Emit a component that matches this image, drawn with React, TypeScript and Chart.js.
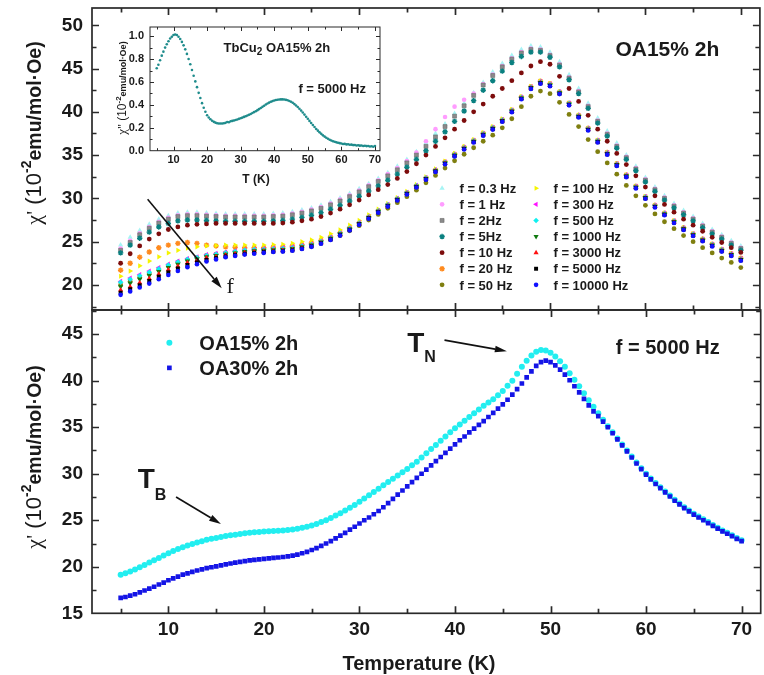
import React, { useEffect, useRef } from 'react';
import { Chart, registerables } from 'chart.js';
import { drawPoint } from 'chart.js/helpers';

Chart.register(...registerables);

const W = 764;
const H = 675;
const SANS = "'Liberation Sans', Arial, Helvetica, sans-serif";
const SERIF = "'Liberation Serif', 'Times New Roman', serif";
const TXT = '#1a1a1a';
const FRAME = '#2a2a2a';

// ---------- axes / ticks ----------
const X_TICKS = [10, 20, 30, 40, 50, 60, 70];
const X_MINOR = [5, 15, 25, 35, 45, 55, 65];
const TOP_Y_TICKS = [20, 25, 30, 35, 40, 45, 50];
const TOP_Y_MINOR = [17.5, 22.5, 27.5, 32.5, 37.5, 42.5, 47.5];
const BOT_Y_TICKS = [15, 20, 25, 30, 35, 40, 45];
const BOT_Y_MINOR = [17.5, 22.5, 27.5, 32.5, 37.5, 42.5, 47.5];
const INSET_X_TICKS = [10, 20, 30, 40, 50, 60, 70];
const INSET_X_MINOR = [5, 15, 25, 35, 45, 55, 65];
const INSET_Y_TICKS = [0, 0.2, 0.4, 0.6, 0.8, 1.0];
const INSET_Y_MINOR = [0.1, 0.3, 0.5, 0.7, 0.9];

// ---------- temperatures ----------
const T_TOP = [
  5, 6, 7, 8, 9, 10, 11, 12, 13, 14,
  15, 16, 17, 18, 19, 20, 21, 22, 23, 24,
  25, 26, 27, 28, 29, 30, 31, 32, 33, 34,
  35, 36, 37, 38, 39, 40, 41, 42, 43, 44,
  45, 46, 47, 48, 49, 50, 51, 52, 53, 54,
  55, 56, 57, 58, 59, 60, 61, 62, 63, 64,
  65, 66, 67, 68, 69, 70,
];
const T_FINE = [
  5, 5.5, 6, 6.5, 7, 7.5, 8, 8.5, 9, 9.5,
  10, 10.5, 11, 11.5, 12, 12.5, 13, 13.5, 14, 14.5,
  15, 15.5, 16, 16.5, 17, 17.5, 18, 18.5, 19, 19.5,
  20, 20.5, 21, 21.5, 22, 22.5, 23, 23.5, 24, 24.5,
  25, 25.5, 26, 26.5, 27, 27.5, 28, 28.5, 29, 29.5,
  30, 30.5, 31, 31.5, 32, 32.5, 33, 33.5, 34, 34.5,
  35, 35.5, 36, 36.5, 37, 37.5, 38, 38.5, 39, 39.5,
  40, 40.5, 41, 41.5, 42, 42.5, 43, 43.5, 44, 44.5,
  45, 45.5, 46, 46.5, 47, 47.5, 48, 48.5, 49, 49.5,
  50, 50.5, 51, 51.5, 52, 52.5, 53, 53.5, 54, 54.5,
  55, 55.5, 56, 56.5, 57, 57.5, 58, 58.5, 59, 59.5,
  60, 60.5, 61, 61.5, 62, 62.5, 63, 63.5, 64, 64.5,
  65, 65.5, 66, 66.5, 67, 67.5, 68, 68.5, 69, 69.5,
  70,
];

// ---------- top panel: chi' (OA15% 2h) at each frequency ----------
const F_0_3 = [
  24.6, 25.5, 26.3, 27.0, 27.6, 28.0, 28.3, 28.4, 28.4, 28.3,
  28.25, 28.2, 28.2, 28.2, 28.2, 28.2, 28.25, 28.3, 28.45, 28.65,
  28.9, 29.2, 29.6, 30.05, 30.55, 31.1, 31.7, 32.3, 32.95, 33.7,
  34.5, 35.4, 36.4, 37.5, 38.6, 39.8, 41.0, 42.2, 43.4, 44.6,
  45.6, 46.5, 47.2, 47.6, 47.5, 46.9, 45.8, 44.3, 42.7, 41.0,
  39.3, 37.8, 36.4, 35.0, 33.7, 32.4, 31.3, 30.3, 29.4, 28.6,
  27.9, 27.1, 26.4, 25.8, 25.1, 24.5,
];
const F_1 = [
  24.2, 25.1, 25.95, 26.7, 27.3, 27.75, 28.05, 28.15, 28.15, 28.1,
  28.05, 28.0, 28.0, 28.0, 28.0, 28.0, 28.05, 28.1, 28.25, 28.45,
  28.7, 29.0, 29.4, 29.85, 30.35, 30.9, 31.5, 32.1, 32.8, 33.5,
  34.3, 35.3, 36.6, 38.0, 39.4, 40.6, 41.4, 42.1, 43.2, 44.3,
  45.3, 46.2, 46.9, 47.3, 47.2, 46.6, 45.5, 44.0, 42.4, 40.7,
  39.0, 37.5, 36.1, 34.8, 33.5, 32.2, 31.1, 30.1, 29.2, 28.4,
  27.7, 26.9, 26.2, 25.6, 24.9, 24.3,
];
const F_2 = [
  24.0, 24.9, 25.8, 26.55, 27.15, 27.6, 27.9, 28.0, 28.0, 27.95,
  27.9, 27.85, 27.85, 27.85, 27.85, 27.85, 27.9, 27.95, 28.1, 28.3,
  28.55, 28.85, 29.25, 29.7, 30.2, 30.75, 31.35, 31.95, 32.6, 33.3,
  34.1, 35.0, 36.0, 37.1, 38.3, 39.5, 40.7, 41.9, 43.1, 44.2,
  45.2, 46.1, 46.8, 47.2, 47.1, 46.5, 45.4, 43.9, 42.3, 40.6,
  38.9, 37.4, 36.0, 34.7, 33.4, 32.1, 31.0, 30.0, 29.1, 28.3,
  27.6, 26.8, 26.1, 25.5, 24.8, 24.2,
];
const F_5 = [
  23.7, 24.6, 25.4, 26.1, 26.7, 27.1, 27.4, 27.5, 27.5, 27.45,
  27.4, 27.35, 27.35, 27.35, 27.35, 27.35, 27.4, 27.45, 27.6, 27.8,
  28.05, 28.35, 28.75, 29.2, 29.7, 30.25, 30.85, 31.45, 32.1, 32.8,
  33.6, 34.5, 35.5, 36.6, 37.7, 38.9, 40.1, 41.3, 42.5, 43.6,
  44.7, 45.7, 46.4, 46.9, 46.9, 46.3, 45.2, 43.7, 42.1, 40.4,
  38.7, 37.2, 35.8, 34.5, 33.2, 31.9, 30.8, 29.8, 28.9, 28.1,
  27.4, 26.6, 25.9, 25.3, 24.6, 24.0,
];
const F_10 = [
  22.5, 23.6, 24.5, 25.3, 25.9, 26.4, 26.7, 26.9, 27.0, 27.05,
  27.1, 27.1, 27.1, 27.1, 27.1, 27.1, 27.1, 27.15, 27.25, 27.4,
  27.6, 27.9, 28.3, 28.75, 29.25, 29.8, 30.4, 31.0, 31.6, 32.3,
  33.1, 34.0, 35.0, 36.0, 37.0, 38.0, 39.0, 40.0, 40.9, 41.8,
  42.7, 43.6, 44.5, 45.3, 45.8, 45.5, 44.1, 42.7, 41.2, 39.6,
  38.0, 36.6, 35.2, 33.9, 32.6, 31.3, 30.3, 29.3, 28.4, 27.6,
  26.9, 26.2, 25.5, 24.9, 24.3, 23.75,
];
const F_20 = [
  21.7, 22.5, 23.2, 23.8, 24.3, 24.6, 24.8, 24.9, 24.8, 24.6,
  24.5, 24.4, 24.35, 24.3, 24.3, 24.3, 24.35, 24.4, 24.5, 24.65,
  24.85, 25.15, 25.55, 26.0, 26.55, 27.15, 27.85, 28.55, 29.25, 29.95,
  30.65, 31.45, 32.35, 33.25, 34.2, 35.1, 35.9, 36.7, 37.5, 38.2,
  39.1, 40.2, 41.7, 42.9, 43.55, 43.25, 42.3, 41.0, 39.6, 38.1,
  36.7, 35.3, 34.0, 32.7, 31.4, 30.2, 29.2, 28.3, 27.4, 26.6,
  25.9, 25.3, 24.7, 24.1, 23.6, 23.1,
];
const F_50 = [
  20.0, 20.4, 20.85, 21.3, 21.75, 22.2, 22.6, 22.9, 23.15, 23.4,
  23.55, 23.7, 23.8, 23.9, 24.0, 24.05, 24.1, 24.15, 24.2, 24.35,
  24.55, 24.85, 25.25, 25.7, 26.25, 26.85, 27.5, 28.15, 28.85, 29.5,
  30.2, 30.95, 31.8, 32.65, 33.5, 34.35, 35.1, 35.85, 36.6, 37.3,
  38.15, 39.2, 40.6, 41.8, 42.4, 42.1, 41.1, 39.7, 38.3, 36.8,
  35.4, 34.1, 32.8, 31.5, 30.3, 29.2, 28.2, 27.3, 26.5, 25.7,
  25.0, 24.3, 23.7, 23.1, 22.6, 22.0,
];
const F_100 = [
  21.0, 21.6, 22.2, 22.75, 23.25, 23.7, 24.0, 24.25, 24.4, 24.5,
  24.55, 24.6, 24.6, 24.6, 24.6, 24.6, 24.65, 24.7, 24.8, 25.0,
  25.2, 25.5, 25.9, 26.35, 26.9, 27.45, 28.1, 28.75, 29.4, 30.1,
  30.8, 31.6, 32.5, 33.4, 34.3, 35.2, 36.0, 36.8, 37.6, 38.3,
  39.2, 40.3, 41.75, 42.95, 43.55, 43.25, 42.3, 41.0, 39.6, 38.1,
  36.7, 35.3, 34.0, 32.7, 31.4, 30.2, 29.2, 28.3, 27.4, 26.6,
  25.9, 25.3, 24.7, 24.1, 23.6, 23.05,
];
const F_300 = [
  20.4, 20.8, 21.2, 21.6, 22.0, 22.4, 22.75, 23.05, 23.25, 23.5,
  23.65, 23.8, 23.95, 24.05, 24.15, 24.2, 24.25, 24.3, 24.4, 24.55,
  24.7, 25.05, 25.5, 26.0, 26.6, 27.2, 27.9, 28.6, 29.3, 30.0,
  30.7, 31.5, 32.4, 33.3, 34.2, 35.1, 35.9, 36.7, 37.5, 38.2,
  39.1, 40.2, 41.7, 42.9, 43.5, 43.2, 42.3, 41.0, 39.6, 38.1,
  36.7, 35.3, 34.0, 32.7, 31.4, 30.2, 29.2, 28.3, 27.4, 26.6,
  25.9, 25.3, 24.7, 24.1, 23.6, 23.05,
];
const F_500 = [
  20.3, 20.65, 21.05, 21.45, 21.85, 22.3, 22.65, 22.95, 23.15, 23.4,
  23.55, 23.7, 23.85, 24.0, 24.1, 24.1, 24.15, 24.2, 24.3, 24.5,
  24.65, 25.0, 25.45, 25.95, 26.55, 27.15, 27.85, 28.55, 29.25, 29.95,
  30.65, 31.45, 32.35, 33.25, 34.15, 35.05, 35.85, 36.65, 37.45, 38.15,
  39.05, 40.15, 41.65, 42.85, 43.45, 43.15, 42.25, 40.95, 39.55, 38.05,
  36.65, 35.25, 33.95, 32.65, 31.35, 30.15, 29.15, 28.25, 27.35, 26.55,
  25.85, 25.25, 24.65, 24.05, 23.55, 23.0,
];
const F_1000 = [
  19.8, 20.2, 20.65, 21.1, 21.55, 22.0, 22.4, 22.75, 23.0, 23.25,
  23.4, 23.55, 23.7, 23.85, 23.95, 24.0, 24.05, 24.1, 24.2, 24.4,
  24.6, 24.95, 25.4, 25.9, 26.5, 27.1, 27.8, 28.5, 29.2, 29.9,
  30.6, 31.4, 32.3, 33.2, 34.1, 35.0, 35.8, 36.6, 37.4, 38.1,
  39.0, 40.1, 41.6, 42.8, 43.4, 43.1, 42.2, 40.9, 39.5, 38.0,
  36.6, 35.2, 33.9, 32.6, 31.3, 30.1, 29.1, 28.2, 27.3, 26.5,
  25.8, 25.2, 24.6, 24.0, 23.5, 22.95,
];
const F_3000 = [
  19.4, 19.8, 20.25, 20.75, 21.25, 21.75, 22.15, 22.55, 22.85, 23.15,
  23.25, 23.45, 23.6, 23.75, 23.85, 23.9, 23.95, 24.0, 24.1, 24.3,
  24.5, 24.85, 25.3, 25.8, 26.4, 27.05, 27.75, 28.45, 29.15, 29.85,
  30.55, 31.35, 32.25, 33.15, 34.05, 34.95, 35.75, 36.55, 37.35, 38.05,
  38.95, 40.05, 41.55, 42.75, 43.35, 43.05, 42.15, 40.85, 39.45, 37.95,
  36.55, 35.15, 33.85, 32.55, 31.25, 30.05, 29.05, 28.15, 27.25, 26.45,
  25.75, 25.15, 24.55, 23.95, 23.45, 22.9,
];
const F_5000 = [
  19.1, 19.5, 19.95, 20.45, 20.95, 21.45, 21.9, 22.3, 22.6, 22.9,
  23.1, 23.3, 23.45, 23.6, 23.7, 23.8, 23.85, 23.9, 24.0, 24.2,
  24.45, 24.8, 25.25, 25.75, 26.35, 27.0, 27.7, 28.4, 29.1, 29.8,
  30.5, 31.3, 32.2, 33.1, 34.0, 34.9, 35.7, 36.5, 37.3, 38.0,
  38.9, 40.0, 41.5, 42.7, 43.3, 43.0, 42.1, 40.8, 39.4, 37.9,
  36.5, 35.1, 33.8, 32.5, 31.2, 30.0, 29.0, 28.1, 27.2, 26.4,
  25.7, 25.1, 24.5, 23.9, 23.4, 22.85,
];
const F_10000 = [
  18.85, 19.25, 19.7, 20.15, 20.65, 21.15, 21.6, 22.05, 22.4, 22.7,
  22.95, 23.2, 23.35, 23.5, 23.6, 23.7, 23.8, 23.85, 23.95, 24.15,
  24.4, 24.75, 25.2, 25.7, 26.3, 26.95, 27.65, 28.35, 29.05, 29.75,
  30.45, 31.25, 32.15, 33.05, 33.95, 34.85, 35.65, 36.45, 37.25, 37.95,
  38.85, 39.95, 41.45, 42.65, 43.25, 42.95, 42.05, 40.75, 39.35, 37.85,
  36.45, 35.05, 33.75, 32.45, 31.15, 29.95, 28.95, 28.05, 27.15, 26.35,
  25.65, 25.05, 24.45, 23.85, 23.35, 22.8,
];

// ---------- bottom panel: chi' at 5000 Hz ----------
const OA15 = [
  19.15, 19.3, 19.5, 19.7, 19.95, 20.2, 20.45, 20.7, 20.95, 21.2,
  21.45, 21.7, 21.9, 22.1, 22.3, 22.45, 22.6, 22.75, 22.9, 23.0,
  23.1, 23.2, 23.3, 23.38, 23.45, 23.53, 23.6, 23.65, 23.7, 23.75,
  23.8, 23.82, 23.85, 23.87, 23.9, 23.95, 24.0, 24.1, 24.2, 24.3,
  24.45, 24.6, 24.8, 25.0, 25.25, 25.5, 25.75, 26.05, 26.35, 26.65,
  27.0, 27.35, 27.7, 28.05, 28.4, 28.75, 29.1, 29.45, 29.8, 30.15,
  30.5, 30.9, 31.3, 31.75, 32.2, 32.65, 33.1, 33.55, 34.0, 34.45,
  34.9, 35.3, 35.7, 36.1, 36.5, 36.9, 37.3, 37.65, 38.0, 38.45,
  38.9, 39.45, 40.0, 40.75, 41.5, 42.15, 42.7, 43.1, 43.3, 43.25,
  43.0, 42.6, 42.1, 41.5, 40.8, 40.1, 39.4, 38.65, 37.9, 37.2,
  36.5, 35.8, 35.1, 34.45, 33.8, 33.15, 32.5, 31.85, 31.2, 30.6,
  30.0, 29.5, 29.0, 28.55, 28.1, 27.65, 27.2, 26.8, 26.4, 26.05,
  25.7, 25.4, 25.1, 24.8, 24.5, 24.2, 23.9, 23.65, 23.4, 23.1,
  22.85,
];
const OA30 = [
  16.65, 16.75, 16.9, 17.05, 17.25, 17.45, 17.65, 17.85, 18.1, 18.3,
  18.55, 18.75, 18.95, 19.15, 19.3, 19.45, 19.6, 19.72, 19.85, 19.95,
  20.05, 20.15, 20.25, 20.35, 20.45, 20.52, 20.6, 20.68, 20.75, 20.8,
  20.85, 20.9, 20.95, 21.0, 21.05, 21.12, 21.2, 21.3, 21.45, 21.6,
  21.8, 22.0, 22.25, 22.5, 22.75, 23.05, 23.35, 23.65, 24.0, 24.3,
  24.65, 25.0, 25.3, 25.65, 26.0, 26.4, 26.85, 27.3, 27.75, 28.2,
  28.65, 29.1, 29.55, 30.0, 30.45, 30.9, 31.35, 31.8, 32.25, 32.7,
  33.15, 33.6, 34.0, 34.45, 34.85, 35.25, 35.65, 36.1, 36.55, 37.0,
  37.45, 37.95, 38.5, 39.1, 39.7, 40.35, 41.0, 41.6, 42.0, 42.15,
  42.0, 41.65, 41.2, 40.65, 40.05, 39.4, 38.75, 38.05, 37.35, 36.7,
  36.2, 35.6, 35.0, 34.35, 33.7, 33.05, 32.4, 31.75, 31.1, 30.5,
  29.9, 29.4, 28.9, 28.45, 28.0, 27.55, 27.1, 26.7, 26.3, 25.95,
  25.6, 25.3, 25.0, 24.7, 24.4, 24.1, 23.8, 23.55, 23.3, 23.0,
  22.75,
];

// ---------- inset: chi'' at 5000 Hz ----------
const CHI2 = [
  0.72, 0.75, 0.79, 0.83, 0.865, 0.9, 0.93, 0.955, 0.98, 0.995,
  1.01, 1.015, 1.01, 0.995, 0.975, 0.95, 0.92, 0.885, 0.845, 0.8,
  0.755, 0.705, 0.655, 0.605, 0.555, 0.505, 0.46, 0.415, 0.375, 0.34,
  0.31, 0.29, 0.275, 0.262, 0.252, 0.245, 0.24, 0.238, 0.237, 0.238,
  0.24, 0.243, 0.25, 0.248, 0.257, 0.26, 0.264, 0.268, 0.273, 0.278,
  0.283, 0.289, 0.295, 0.301, 0.307, 0.314, 0.321, 0.329, 0.337, 0.345,
  0.354, 0.363, 0.373, 0.383, 0.393, 0.403, 0.412, 0.42, 0.427, 0.433,
  0.438, 0.442, 0.445, 0.447, 0.448, 0.448, 0.447, 0.444, 0.44, 0.434,
  0.427, 0.418, 0.407, 0.395, 0.381, 0.366, 0.35, 0.333, 0.315, 0.297,
  0.279, 0.26, 0.242, 0.224, 0.207, 0.19, 0.175, 0.16, 0.147, 0.134,
  0.123, 0.113, 0.104, 0.096, 0.089, 0.083, 0.078, 0.073, 0.069, 0.066,
  0.063, 0.058, 0.06, 0.055, 0.056, 0.052, 0.053, 0.049, 0.05, 0.046,
  0.047, 0.044, 0.045, 0.041, 0.043, 0.04, 0.041, 0.037, 0.039, 0.035,
  0.041,
];

// ---------- series look ----------
type Look = { label: string; values: number[]; style: string; r: number; fill: string; stroke: string; bw: number; rot: number };
const TOP_SERIES: Look[] = [
  { label: 'f = 0.3 Hz', values: F_0_3, style: 'triangle', r: 3, fill: '#a6f4f4', stroke: '#a6f4f4', bw: 0, rot: 0 },
  { label: 'f = 1 Hz', values: F_1, style: 'circle', r: 2.3, fill: '#ff9cff', stroke: '#ff9cff', bw: 0, rot: 0 },
  { label: 'f = 2Hz', values: F_2, style: 'rect', r: 2.8, fill: '#8a8a8a', stroke: '#6a6a6a', bw: 0.6, rot: 0 },
  { label: 'f = 5Hz', values: F_5, style: 'star', r: 2.7, fill: '#0a8080', stroke: '#0a8080', bw: 1.4, rot: 0 },
  { label: 'f = 10 Hz', values: F_10, style: 'circle', r: 2.4, fill: '#7d0c0c', stroke: '#7d0c0c', bw: 0, rot: 0 },
  { label: 'f = 20 Hz', values: F_20, style: 'star', r: 2.7, fill: '#ff8a1e', stroke: '#ff8a1e', bw: 1.4, rot: 0 },
  { label: 'f = 50 Hz', values: F_50, style: 'circle', r: 2.4, fill: '#7f7f10', stroke: '#7f7f10', bw: 0, rot: 0 },
  { label: 'f = 100 Hz', values: F_100, style: 'triangle', r: 3, fill: '#f5f500', stroke: '#f5f500', bw: 0, rot: 90 },
  { label: 'f = 300 Hz', values: F_300, style: 'triangle', r: 3, fill: '#ff10ff', stroke: '#ff10ff', bw: 0, rot: -90 },
  { label: 'f = 500 Hz', values: F_500, style: 'rectRot', r: 2.8, fill: '#10f0f0', stroke: '#10f0f0', bw: 0, rot: 0 },
  { label: 'f = 1000 Hz', values: F_1000, style: 'triangle', r: 3, fill: '#107a10', stroke: '#107a10', bw: 0, rot: 180 },
  { label: 'f = 3000 Hz', values: F_3000, style: 'triangle', r: 3, fill: '#ff1010', stroke: '#ff1010', bw: 0, rot: 0 },
  { label: 'f = 5000 Hz', values: F_5000, style: 'rect', r: 2.8, fill: '#000000', stroke: '#000000', bw: 0, rot: 0 },
  { label: 'f = 10000 Hz', values: F_10000, style: 'circle', r: 2.3, fill: '#1010ff', stroke: '#1010ff', bw: 0, rot: 0 },
];
const BOT_SERIES: Look[] = [
  { label: 'OA15% 2h', values: OA15, style: 'circle', r: 3, fill: '#22eef0', stroke: '#22eef0', bw: 0, rot: 0 },
  { label: 'OA30% 2h', values: OA30, style: 'rect', r: 3.3, fill: '#1414e6', stroke: '#1414e6', bw: 0, rot: 0 },
];

// ---------- helpers ----------
type Part = { t: string; font: string; dy?: number };
function richWidth(ctx: CanvasRenderingContext2D, parts: Part[]) {
  let w = 0;
  for (const p of parts) { ctx.font = p.font; w += ctx.measureText(p.t).width; }
  return w;
}
function drawRich(ctx: CanvasRenderingContext2D, x: number, y: number, parts: Part[], align: 'left' | 'center' | 'right', rot = 0) {
  ctx.save();
  ctx.translate(x, y);
  if (rot) ctx.rotate(rot);
  const w = richWidth(ctx, parts);
  let cx = align === 'left' ? 0 : align === 'center' ? -w / 2 : -w;
  ctx.fillStyle = TXT;
  ctx.textBaseline = 'alphabetic';
  ctx.textAlign = 'left';
  for (const p of parts) {
    ctx.font = p.font;
    ctx.fillText(p.t, cx, p.dy || 0);
    cx += ctx.measureText(p.t).width;
  }
  ctx.restore();
}
function drawArrow(ctx: CanvasRenderingContext2D, x1: number, y1: number, x2: number, y2: number, head = 11, half = 3.2) {
  const a = Math.atan2(y2 - y1, x2 - x1);
  const bx = x2 - head * Math.cos(a);
  const by = y2 - head * Math.sin(a);
  ctx.save();
  ctx.strokeStyle = '#111';
  ctx.fillStyle = '#111';
  ctx.lineWidth = 1.6;
  ctx.beginPath();
  ctx.moveTo(x1, y1);
  ctx.lineTo(bx, by);
  ctx.stroke();
  ctx.beginPath();
  ctx.moveTo(x2, y2);
  ctx.lineTo(bx + half * Math.sin(a), by - half * Math.cos(a));
  ctx.lineTo(bx - half * Math.sin(a), by + half * Math.cos(a));
  ctx.closePath();
  ctx.fill();
  ctx.restore();
}

type FrameCfg = { xMajor: number[]; xMinor: number[]; yMajor: number[]; yMinor: number[]; major: number; minor: number; lw: number };
function framePlugin(id: string, f: FrameCfg) {
  return {
    id,
    afterDraw(chart: any) {
      const { ctx, chartArea: a, scales } = chart;
      const xs = scales.x;
      const ys = scales.y;
      ctx.save();
      ctx.strokeStyle = FRAME;
      ctx.lineWidth = f.lw;
      ctx.strokeRect(a.left, a.top, a.right - a.left, a.bottom - a.top);
      ctx.beginPath();
      const xt = (vals: number[], len: number) => {
        for (const v of vals) {
          const p = Math.round(xs.getPixelForValue(v)) + 0.5;
          if (p <= a.left + 1 || p >= a.right - 1) continue;
          ctx.moveTo(p, a.bottom); ctx.lineTo(p, a.bottom - len);
          ctx.moveTo(p, a.top); ctx.lineTo(p, a.top + len);
        }
      };
      const yt = (vals: number[], len: number) => {
        for (const v of vals) {
          const p = Math.round(ys.getPixelForValue(v)) + 0.5;
          if (p <= a.top + 1 || p >= a.bottom - 1) continue;
          ctx.moveTo(a.left, p); ctx.lineTo(a.left + len, p);
          ctx.moveTo(a.right, p); ctx.lineTo(a.right - len, p);
        }
      };
      xt(f.xMajor, f.major); xt(f.xMinor, f.minor);
      yt(f.yMajor, f.major); yt(f.yMinor, f.minor);
      ctx.stroke();
      ctx.restore();
    },
  };
}

function mainYTitle(ctx: CanvasRenderingContext2D, x: number, y: number) {
  drawRich(ctx, x, y, [
    { t: "χ'", font: `22px ${SERIF}` },
    { t: ' (10', font: `22px ${SANS}` },
    { t: '-2', font: `bold 14px ${SANS}`, dy: -10 },
    { t: 'emu/mol·Oe)', font: `bold 19.5px ${SANS}` },
  ], 'center', -Math.PI / 2);
}

function drawLegendMarker(ctx: CanvasRenderingContext2D, s: Look, x: number, y: number) {
  ctx.save();
  ctx.fillStyle = s.fill;
  ctx.strokeStyle = s.stroke;
  ctx.lineWidth = s.bw;
  drawPoint(ctx, { pointStyle: s.style as any, rotation: s.rot, radius: s.r, borderWidth: s.bw }, x, y);
  ctx.restore();
}

function datasetsOf(series: Look[], temps: number[]) {
  return series.map((s, i) => ({
    label: s.label,
    data: temps.map((t, j) => ({ x: t, y: s.values[j] })),
    showLine: false,
    pointStyle: s.style,
    pointRadius: s.r,
    pointHoverRadius: s.r,
    pointBackgroundColor: s.fill,
    pointBorderColor: s.stroke,
    pointBorderWidth: s.bw,
    pointRotation: s.rot,
    order: series.length - i,
  }));
}

function yScale(min: number, max: number, ticks: number[], width: number, size: number, pad: number, fmt: (v: number) => string) {
  return {
    type: 'linear', position: 'left', min, max,
    grid: { display: false, drawTicks: false },
    border: { display: false },
    ticks: { font: { family: SANS, weight: 'bold', size }, color: TXT, padding: pad, autoSkip: false, callback: (v: any) => fmt(Number(v)) },
    afterBuildTicks: (s: any) => { s.ticks = ticks.map((v) => ({ value: v })); },
    afterFit: (s: any) => { s.width = width; s.paddingTop = 0; s.paddingBottom = 0; },
  };
}
function xScale(min: number, max: number, ticks: number[], height: number, size: number, pad: number, show: boolean) {
  return {
    type: 'linear', position: 'bottom', min, max, display: show,
    grid: { display: false, drawTicks: false },
    border: { display: false },
    ticks: { font: { family: SANS, weight: 'bold', size }, color: TXT, padding: pad, autoSkip: false, maxRotation: 0, callback: (v: any) => String(v) },
    afterBuildTicks: (s: any) => { s.ticks = ticks.map((v) => ({ value: v })); },
    afterFit: (s: any) => { s.height = height; s.paddingLeft = 0; s.paddingRight = 0; },
  };
}

const baseOpts = {
  animation: false,
  responsive: false,
  maintainAspectRatio: false,
  devicePixelRatio: 1,
  events: [],
  plugins: { legend: { display: false }, tooltip: { enabled: false } },
};

function topConfig(): any {
  const deco = {
    id: 'topDeco',
    afterDraw(chart: any) {
      const { ctx, scales } = chart;
      const X = (v: number) => scales.x.getPixelForValue(v);
      const Y = (v: number) => scales.y.getPixelForValue(v);
      // panel label
      drawRich(ctx, X(62.3), Y(46.45), [{ t: 'OA15% 2h', font: `bold 21px ${SANS}` }], 'center');
      // frequency arrow
      drawArrow(ctx, X(7.83), Y(29.9), X(15.6), Y(19.62), 12, 3.5);
      drawRich(ctx, X(16.1), Y(19.05), [{ t: 'f', font: `22px ${SERIF}` }], 'left');
      // legend
      const ax = X(38.69);
      const ay = Y(31.17);
      TOP_SERIES.forEach((s, i) => {
        const col = i < 7 ? 0 : 1;
        const row = i % 7;
        const mx = ax + col * 94;
        const my = ay + row * 16.1;
        drawLegendMarker(ctx, s, mx, my);
        drawRich(ctx, mx + 17.4, my + 4.7, [{ t: s.label, font: `bold 13px ${SANS}` }], 'left');
      });
      mainYTitle(ctx, 41, 133);
    },
  };
  return {
    type: 'scatter',
    data: { datasets: datasetsOf(TOP_SERIES, T_TOP) },
    options: {
      ...baseOpts,
      layout: { padding: { top: 8, right: 2, bottom: H - 310, left: 0 } },
      scales: {
        x: xScale(2, 72, X_TICKS, 0, 19, 5, false),
        y: yScale(17.1, 52, TOP_Y_TICKS, 92, 19, 9, (v) => String(v)),
      },
    },
    plugins: [framePlugin('topFrame', { xMajor: X_TICKS, xMinor: X_MINOR, yMajor: TOP_Y_TICKS, yMinor: TOP_Y_MINOR, major: 7, minor: 4.5, lw: 1.7 }), deco],
  };
}

function botConfig(): any {
  const deco = {
    id: 'botDeco',
    afterDraw(chart: any) {
      const { ctx, scales } = chart;
      const X = (v: number) => scales.x.getPixelForValue(v);
      const Y = (v: number) => scales.y.getPixelForValue(v);
      // legend
      drawLegendMarker(ctx, BOT_SERIES[0], X(10.1), Y(44.07));
      drawLegendMarker(ctx, BOT_SERIES[1], X(10.1), Y(41.38));
      drawRich(ctx, X(13.24), Y(43.28), [{ t: BOT_SERIES[0].label, font: `bold 20px ${SANS}` }], 'left');
      drawRich(ctx, X(13.24), Y(40.6), [{ t: BOT_SERIES[1].label, font: `bold 20px ${SANS}` }], 'left');
      drawRich(ctx, X(62.26), Y(42.85), [{ t: 'f = 5000 Hz', font: `bold 20px ${SANS}` }], 'center');
      // T_N
      drawRich(ctx, X(35.0), Y(43.1), [
        { t: 'T', font: `bold 28px ${SANS}` },
        { t: 'N', font: `bold 16px ${SANS}`, dy: 10 },
      ], 'left');
      drawArrow(ctx, X(38.9), Y(44.36), X(45.43), Y(43.17), 12, 3.3);
      // T_B
      drawRich(ctx, X(6.79), Y(28.43), [
        { t: 'T', font: `bold 28px ${SANS}` },
        { t: 'B', font: `bold 16px ${SANS}`, dy: 12 },
      ], 'left');
      drawArrow(ctx, X(10.8), Y(27.5), X(15.5), Y(24.6), 12, 3.3);
      // axis titles
      drawRich(ctx, 419, 670, [{ t: 'Temperature (K)', font: `bold 20px ${SANS}` }], 'center');
      mainYTitle(ctx, 41, 457);
    },
  };
  const ds = datasetsOf(BOT_SERIES, T_FINE);
  ds[0].order = 2;
  ds[1].order = 1;
  return {
    type: 'scatter',
    data: { datasets: ds },
    options: {
      ...baseOpts,
      layout: { padding: { top: 310, right: 2, bottom: 0, left: 0 } },
      scales: {
        x: xScale(2, 72, X_TICKS, H - 613.3, 19, 5, true),
        y: yScale(15, 47.6, BOT_Y_TICKS, 92, 19, 9, (v) => String(v)),
      },
    },
    plugins: [framePlugin('botFrame', { xMajor: X_TICKS, xMinor: X_MINOR, yMajor: BOT_Y_TICKS, yMinor: BOT_Y_MINOR, major: 7, minor: 4.5, lw: 1.7 }), deco],
  };
}

function insetConfig(): any {
  const deco = {
    id: 'insDeco',
    afterDraw(chart: any) {
      const { ctx, scales } = chart;
      const X = (v: number) => scales.x.getPixelForValue(v);
      const Y = (v: number) => scales.y.getPixelForValue(v);
      drawRich(ctx, X(24.9), Y(0.865), [
        { t: 'TbCu', font: `bold 13px ${SANS}` },
        { t: '2', font: `bold 10px ${SANS}`, dy: 3.5 },
        { t: ' OA15% 2h', font: `bold 13px ${SANS}` },
      ], 'left');
      drawRich(ctx, X(47.2), Y(0.507), [{ t: 'f = 5000 Hz', font: `bold 13px ${SANS}` }], 'left');
      drawRich(ctx, 256, 182.5, [{ t: 'T (K)', font: `bold 12px ${SANS}` }], 'center');
      drawRich(ctx, 126, 88, [
        { t: "χ''", font: `13px ${SERIF}` },
        { t: ' (10', font: `12px ${SANS}` },
        { t: '-2', font: `bold 8px ${SANS}`, dy: -5 },
        { t: 'emu/mol·Oe)', font: `bold 9px ${SANS}` },
      ], 'center', -Math.PI / 2);
    },
  };
  return {
    type: 'scatter',
    data: {
      datasets: [{
        label: "chi''",
        data: T_FINE.map((t, j) => ({ x: t, y: CHI2[j] })),
        showLine: false,
        pointStyle: 'circle',
        pointRadius: 1.3,
        pointHoverRadius: 1.3,
        pointBackgroundColor: '#1f8c8c',
        pointBorderWidth: 0,
      }],
    },
    options: {
      ...baseOpts,
      layout: { padding: { top: 27, right: W - 380, bottom: H - 150.7 - 40, left: 0 } },
      scales: {
        x: xScale(3, 71.5, INSET_X_TICKS, 40, 11, 3, true),
        y: yScale(0, 1.08, INSET_Y_TICKS, 150, 11, 6, (v) => v.toFixed(1)),
      },
    },
    plugins: [framePlugin('insFrame', { xMajor: INSET_X_TICKS, xMinor: INSET_X_MINOR, yMajor: INSET_Y_TICKS, yMinor: INSET_Y_MINOR, major: 4, minor: 2.5, lw: 1 }), deco],
  };
}

export default function App() {
  const topRef = useRef<HTMLCanvasElement>(null);
  const botRef = useRef<HTMLCanvasElement>(null);
  const insRef = useRef<HTMLCanvasElement>(null);
  useEffect(() => {
    const charts = [
      new Chart(topRef.current as HTMLCanvasElement, topConfig()),
      new Chart(botRef.current as HTMLCanvasElement, botConfig()),
      new Chart(insRef.current as HTMLCanvasElement, insetConfig()),
    ];
    return () => charts.forEach((c) => c.destroy());
  }, []);
  const cs: React.CSSProperties = { position: 'absolute', left: 0, top: 0, width: W, height: H };
  return (
    <div style={{ position: 'absolute', left: 0, top: 0, width: W, height: H, background: '#ffffff' }}>
      <canvas ref={topRef} width={W} height={H} style={cs} />
      <canvas ref={botRef} width={W} height={H} style={cs} />
      <canvas ref={insRef} width={W} height={H} style={cs} />
    </div>
  );
}
